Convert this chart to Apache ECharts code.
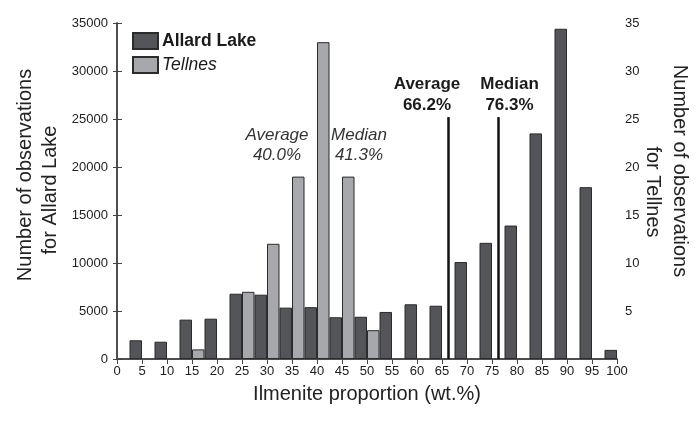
<!DOCTYPE html>
<html><head><meta charset="utf-8">
<script src="https://cdn.jsdelivr.net/npm/echarts@6/dist/echarts.min.js"></script>
<style>html,body{margin:0;padding:0;background:#fff}#c{width:699px;height:428px}</style>
</head><body><div id="c"></div>
<script>
// ---- data ----
const categories = [5,10,15,20,25,30,35,40,45,50,55,60,65,70,75,80,85,90,95,100];
const allardLake = [1950,1800,4100,4200,6800,6700,5350,5400,4350,4400,4900,5700,5550,10100,12100,13900,23500,34400,17900,950];
const tellnes    = [0,0,1,0,7,12,19,33,19,3,0,0,0,0,0,0,0,0,0,0];
const allardStats = {average: 66.2, median: 76.3};
const tellnesStats = {average: 40.0, median: 41.3};
const leftTicks = {min: 0, max: 35000, interval: 5000};
const rightTicks = {min: 0, max: 35, interval: 5};
const xTicks = {min: 0, max: 100, interval: 5};

const FONT = '"Liberation Sans", Arial, Helvetica, sans-serif';
const AXIS = '#444';
const chart = echarts.init(document.getElementById('c'), null, {renderer: 'canvas'});

const allardData = categories.map((c, i) => [c, allardLake[i]]);
const tellnesData = categories.map((c, i) => [c, tellnes[i]]).filter(d => d[1] > 0);

const option = {
  animation: false,
  textStyle: {fontFamily: FONT},
  grid: {left: 117, right: 82, top: 23, bottom: 69, containLabel: false},
  legend: {
    orient: 'vertical', left: 127, top: 27, itemWidth: 25, itemHeight: 16, itemGap: 6,
    icon: 'rect',
    textStyle: {fontFamily: FONT, fontSize: 17.5, color: '#1a1a1a', padding: [0,0,0,-1]},
    data: [
      {name: 'Allard Lake', textStyle: {fontWeight: 'bold'}},
      {name: 'Tellnes', textStyle: {fontStyle: 'italic'}}
    ]
  },
  xAxis: [{
    type: 'value', position: 'bottom', min: xTicks.min, max: xTicks.max, interval: xTicks.interval,
    axisLine: {show: true, lineStyle: {color: AXIS, width: 1.5}},
    axisTick: {show: true, inside: false, length: 5, lineStyle: {color: AXIS}},
    axisLabel: {fontFamily: FONT, fontSize: 13, color: '#222', margin: 6},
    splitLine: {show: false},
    name: 'Ilmenite proportion (wt.%)', nameLocation: 'middle', nameGap: 25,
    nameTextStyle: {fontFamily: FONT, fontSize: 20, color: '#222'}
  }, {
    type: 'value', position: 'top', min: xTicks.min, max: xTicks.max, interval: xTicks.interval,
    axisLine: {show: true, lineStyle: {color: AXIS, width: 1.5}},
    axisTick: {show: true, inside: true, length: 5, lineStyle: {color: AXIS}},
    axisLabel: {show: false}, splitLine: {show: false}
  }],
  yAxis: [{
    type: 'value', position: 'left', min: leftTicks.min, max: leftTicks.max, interval: leftTicks.interval,
    axisLine: {show: true, lineStyle: {color: AXIS, width: 1.5}},
    axisTick: {show: true, inside: false, length: 4, lineStyle: {color: AXIS}},
    axisLabel: {fontFamily: FONT, fontSize: 13, color: '#222', margin: 9, formatter: v => String(v)},
    splitLine: {show: false}
  }, {
    type: 'value', position: 'right', min: rightTicks.min, max: rightTicks.max, interval: rightTicks.interval,
    axisLine: {show: true, lineStyle: {color: AXIS, width: 1.5}},
    axisTick: {show: true, inside: false, length: 5, lineStyle: {color: AXIS}},
    axisLabel: {fontFamily: FONT, fontSize: 13, color: '#222', margin: 8,
      formatter: v => v === 0 ? '' : String(v)},
    splitLine: {show: false}
  }],
  series: [{
    name: 'Allard Lake', type: 'bar', xAxisIndex: 0, yAxisIndex: 0,
    barWidth: 12.5, barGap: '0%',
    itemStyle: {color: '#545558', borderColor: '#2b2b2b', borderWidth: 1},
    data: allardData
  }, {
    name: 'Tellnes', type: 'bar', xAxisIndex: 0, yAxisIndex: 1,
    barWidth: 12.5, barGap: '0%',
    itemStyle: {color: '#a7a8ab', borderColor: '#2b2b2b', borderWidth: 1},
    data: tellnesData
  }, {
    name: 'stats', type: 'line', xAxisIndex: 0, yAxisIndex: 0, data: [], silent: true,
    markLine: {
      silent: true, symbol: 'none',
      lineStyle: {color: '#111', width: 2.5, type: 'solid'},
      label: {show: false},
      data: [
        [{coord: [allardStats.average, 0]}, {coord: [allardStats.average, 25200]}],
        [{coord: [allardStats.median, 0]}, {coord: [allardStats.median, 25200]}]
      ]
    }
  }]
};
chart.setOption(option);

// annotation texts, anchored to stat positions
const px = v => chart.convertToPixel({xAxisIndex: 0}, v);
const boldStyle = {fontFamily: FONT, fontSize: 17, fontWeight: 'bold', fill: '#1a1a1a', align: 'center', verticalAlign: 'middle', lineHeight: 21};
const itStyle = {fontFamily: FONT, fontSize: 17, fontStyle: 'italic', fill: '#333', align: 'center', verticalAlign: 'middle', lineHeight: 20};
chart.setOption({
  graphic: [
    {type: 'text', x: px(allardStats.average) - 21, y: 95, style: Object.assign({text: 'Average\n' + allardStats.average.toFixed(1) + '%'}, boldStyle)},
    {type: 'text', x: px(allardStats.median) + 11, y: 95, style: Object.assign({text: 'Median\n' + allardStats.median.toFixed(1) + '%'}, boldStyle)},
    {type: 'text', x: 277, y: 145, style: Object.assign({text: 'Average\n' + tellnesStats.average.toFixed(1) + '%'}, itStyle)},
    {type: 'text', x: 359, y: 145, style: Object.assign({text: 'Median\n' + tellnesStats.median.toFixed(1) + '%'}, itStyle)},
    {type: 'text', x: 25, y: 175, rotation: Math.PI / 2, style: {text: 'Number of observations', fontFamily: FONT, fontSize: 20, fill: '#222', align: 'center', verticalAlign: 'middle'}},
    {type: 'text', x: 50, y: 190, rotation: Math.PI / 2, style: {text: 'for Allard Lake', fontFamily: FONT, fontSize: 20, fill: '#222', align: 'center', verticalAlign: 'middle'}},
    {type: 'text', x: 680, y: 171, rotation: -Math.PI / 2, style: {text: 'Number of observations', fontFamily: FONT, fontSize: 20, fill: '#222', align: 'center', verticalAlign: 'middle'}},
    {type: 'text', x: 653, y: 192, rotation: -Math.PI / 2, style: {text: 'for Tellnes', fontFamily: FONT, fontSize: 20, fill: '#222', align: 'center', verticalAlign: 'middle'}}
  ]
});
</script>
</body></html>
